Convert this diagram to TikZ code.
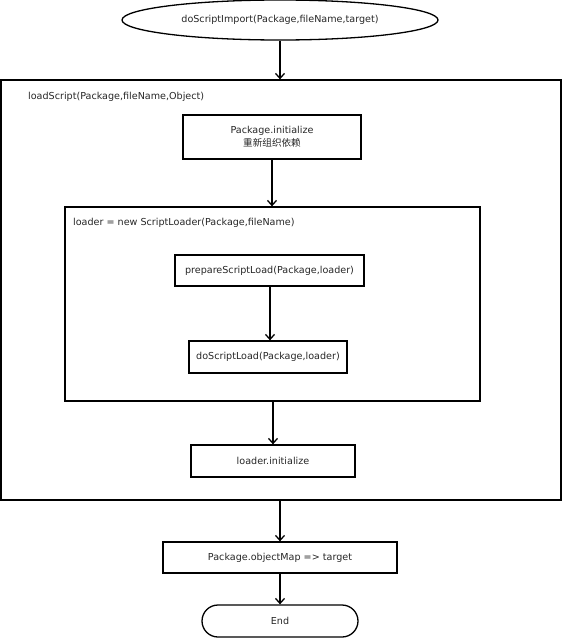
\documentclass[tikz,border=0pt]{standalone}
\usepackage{fontspec}
\setmainfont{DejaVu Sans}
\newfontfamily\cjk{Noto Sans CJK SC}
\usetikzlibrary{arrows.meta,shapes.geometric,shapes.misc}
\tikzset{
  base/.style={draw=black,line width=1.3pt,inner sep=0pt,font=\fontsize{9.6}{12}\selectfont,text=black!85},
  procbox/.style={base,rectangle},
  startnode/.style={base,ellipse},
  endnode/.style={base,rounded rectangle},
  groupbox/.style={draw=black,line width=1.3pt,rectangle,inner sep=0pt},
  lbl/.style={font=\fontsize{9.6}{12}\selectfont,text=black!85,anchor=west,inner sep=0pt},
  flow/.style={draw=black,line width=1.3pt,-{Straight Barb[length=5pt,width=9pt,line width=1.3pt]}}
}
\begin{document}
\begin{tikzpicture}[x=1pt,y=-1pt]
\useasboundingbox (0,0) rectangle (564,640);
\node[startnode,minimum width=316pt,minimum height=40pt] (start) at (280,20) {doScriptImport(Package,fileName,target)};
\node[groupbox,minimum width=560pt,minimum height=420pt] (outer) at (281,290) {};
\node[lbl] (outerlbl) at (28,97) {loadScript(Package,fileName,Object)};
\node[procbox,minimum width=178pt,minimum height=44pt,align=center] (init) at (272,137) {Package.initialize\\[1pt]{\cjk 重新组织依赖}};
\node[groupbox,minimum width=415pt,minimum height=194pt] (inner) at (272.5,304) {};
\node[lbl] (innerlbl) at (73,223) {loader = new ScriptLoader(Package,fileName)};
\node[procbox,minimum width=189pt,minimum height=31pt] (prep) at (269.5,270.5) {prepareScriptLoad(Package,loader)};
\node[procbox,minimum width=158pt,minimum height=32pt] (doload) at (268,357) {doScriptLoad(Package,loader)};
\node[procbox,minimum width=164pt,minimum height=32pt] (linit) at (273,461) {loader.initialize};
\node[procbox,minimum width=234pt,minimum height=31pt] (objmap) at (280,557.5) {Package.objectMap => target};
\node[endnode,minimum width=156pt,minimum height=32pt] (end) at (280,621) {End};
\draw[flow] (start.south) -- (start.south |- outer.north);
\draw[flow] (init.south) -- (init.south |- inner.north);
\draw[flow] (prep.south -| 270,0) -- (doload.north -| 270,0);
\draw[flow] (inner.south -| linit.north) -- (linit.north);
\draw[flow] (outer.south -| objmap.north) -- (objmap.north);
\draw[flow] (objmap.south) -- (end.north);
\end{tikzpicture}
\end{document}
